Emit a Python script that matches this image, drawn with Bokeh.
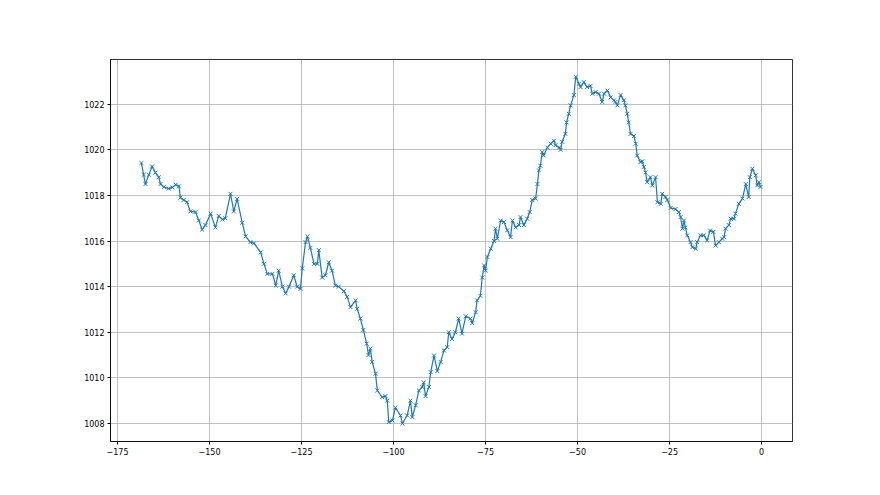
from bokeh.plotting import figure
from bokeh.models import Range1d, FixedTicker
from bokeh.embed import file_html
from bokeh.resources import INLINE

hours = [-168.5, -167.9, -167.4, -166.5, -165.6, -164.7, -163.8, -163.3, -162.4, -161.1,
         -160.1, -159.2, -158.3, -157.9, -157.0, -156.1, -155.2, -153.8, -152.9, -152.0,
         -151.1, -149.7, -148.4, -147.5, -146.5, -145.7, -144.3, -143.4, -142.5, -141.1,
         -140.2, -138.9, -137.9, -136.1, -135.2, -134.3, -132.9, -132.0, -131.2, -130.2,
         -129.3, -128.4, -127.1, -126.2, -125.3, -124.8, -123.9, -123.4, -122.6, -121.6,
         -120.7, -120.3, -119.4, -118.5, -117.6, -116.7, -115.8, -114.9, -113.5, -112.6,
         -111.7, -110.3, -109.9, -109.0, -108.2, -107.3, -106.8, -106.3, -105.8, -104.9,
         -104.4, -103.1, -102.2, -101.7, -101.3, -100.3, -99.5, -98.1, -97.6, -96.3,
         -95.4, -94.9, -94.0, -93.1, -92.2, -91.8, -91.3, -90.4, -89.9, -89.0,
         -88.1, -87.2, -86.3, -85.4, -85.0, -84.1, -83.2, -82.3, -81.4, -80.4,
         -79.1, -78.6, -77.7, -77.3, -76.4, -75.9, -75.4, -75.0, -74.5, -73.6,
         -72.7, -72.3, -71.8, -70.9, -70.0, -69.1, -68.2, -67.7, -66.8, -65.9,
         -65.5, -64.6, -63.7, -63.0, -62.3, -61.4, -60.9, -60.5, -60.1, -59.6,
         -59.2, -58.2, -57.3, -56.4, -56.0, -55.0, -54.6, -54.2, -53.3, -53.0,
         -52.4, -51.9, -51.0, -50.5, -49.6, -49.2, -48.3, -47.4, -46.5, -46.0,
         -45.1, -44.2, -43.3, -42.8, -41.9, -41.0, -40.1, -39.7, -39.2, -38.3,
         -37.4, -37.0, -36.5, -36.1, -35.6, -34.7, -34.2, -33.8, -32.9, -32.4,
         -32.0, -31.5, -31.1, -30.2, -29.7, -28.8, -28.3, -27.4, -27.0, -26.1,
         -25.6, -24.7, -23.4, -22.5, -22.0, -21.5, -21.1, -20.7, -20.2, -19.3,
         -18.8, -17.9, -17.5, -16.6, -15.7, -14.8, -14.0, -13.1, -12.5, -11.6,
         -10.7, -10.2, -9.8, -8.9, -8.4, -7.5, -7.1, -6.2, -5.2, -4.3,
         -3.5, -3.2, -2.5, -1.6, -1.2, -0.7, -0.3]

pressure = [1019.42, 1018.9, 1018.5, 1018.9, 1019.27, 1019.0, 1018.8, 1018.5, 1018.37, 1018.3,
            1018.35, 1018.47, 1018.4, 1017.9, 1017.8, 1017.7, 1017.3, 1017.27, 1016.9, 1016.5,
            1016.7, 1017.2, 1016.6, 1017.1, 1016.95, 1017.0, 1018.07, 1017.3, 1017.85, 1016.8,
            1016.2, 1015.95, 1015.9, 1015.5, 1015.0, 1014.56, 1014.56, 1014.05, 1014.7, 1014.0,
            1013.7, 1014.0, 1014.5, 1014.0, 1013.9, 1014.8, 1015.95, 1016.2, 1015.7, 1015.0,
            1015.0, 1015.6, 1014.4, 1014.5, 1015.07, 1014.7, 1014.05, 1014.0, 1013.8, 1013.55,
            1013.1, 1013.4, 1013.03, 1012.6, 1012.1, 1011.5, 1011.0, 1011.28, 1010.7, 1010.18,
            1009.45, 1009.15, 1009.2, 1009.0, 1008.06, 1008.13, 1008.7, 1008.35, 1008.0, 1008.35,
            1009.0, 1008.28, 1008.8, 1009.45, 1009.6, 1009.8, 1009.2, 1009.6, 1010.25, 1010.98,
            1010.3, 1010.7, 1011.2, 1011.35, 1012.0, 1011.7, 1012.0, 1012.6, 1011.94, 1012.7,
            1012.6, 1012.4, 1012.88, 1013.4, 1013.6, 1014.4, 1014.93, 1014.7, 1015.3, 1015.66,
            1016.0, 1016.54, 1016.1, 1016.9, 1016.83, 1016.47, 1016.17, 1016.9, 1016.6, 1016.7,
            1017.05, 1016.7, 1016.98, 1017.27, 1017.8, 1017.86, 1018.5, 1019.1, 1019.3, 1019.9,
            1019.75, 1020.1, 1020.27, 1020.4, 1020.2, 1020.1, 1020.0, 1020.35, 1020.7, 1021.2,
            1021.58, 1021.95, 1022.4, 1023.2, 1022.9, 1022.75, 1022.97, 1022.75, 1022.8, 1022.46,
            1022.53, 1022.46, 1022.1, 1022.46, 1022.6, 1022.3, 1022.17, 1022.1, 1021.95, 1022.4,
            1022.17, 1021.95, 1021.58, 1021.2, 1020.7, 1020.6, 1020.27, 1019.75, 1019.46, 1019.5,
            1019.25, 1019.0, 1018.58, 1018.8, 1018.44, 1018.8, 1017.7, 1017.63, 1018.07, 1017.93,
            1017.8, 1017.45, 1017.4, 1017.27, 1017.05, 1016.54, 1016.9, 1016.6, 1016.25, 1015.95,
            1015.73, 1015.66, 1015.95, 1016.25, 1016.25, 1016.03, 1016.46, 1016.4, 1015.8, 1015.95,
            1016.1, 1016.17, 1016.54, 1016.7, 1016.98, 1016.98, 1017.2, 1017.63, 1017.86, 1018.5,
            1017.93, 1018.8, 1019.17, 1018.88, 1018.44, 1018.58, 1018.37]

x_ticks = [-175, -150, -125, -100, -75, -50, -25, 0]
y_ticks = [1008, 1010, 1012, 1014, 1016, 1018, 1020, 1022]

p = figure(width=864, height=479, output_backend="svg", toolbar_location=None,
           x_range=Range1d(-176.9, 8.4), y_range=Range1d(1007.21, 1023.96),
           min_border_left=110, min_border_right=72, min_border_top=59, min_border_bottom=38)

p.background_fill_color = "white"
p.border_fill_color = "white"
p.outline_line_color = "black"
p.outline_line_width = 1
p.outline_line_alpha = 0.8

p.xaxis.ticker = FixedTicker(ticks=x_ticks)
p.yaxis.ticker = FixedTicker(ticks=y_ticks)
for ax in (p.xaxis, p.yaxis):
    ax.axis_line_color = "black"
    ax.axis_line_alpha = 0.8
    ax.major_tick_line_color = "black"
    ax.major_tick_in = 0
    ax.major_tick_out = 3
    ax.minor_tick_line_color = None
    ax.major_label_text_font = "DejaVu Sans"
    ax.major_label_text_font_size = "8px"
    ax.major_label_text_color = "black"
    ax.major_label_standoff = 3

p.grid.grid_line_color = "#b0b0b0"
p.grid.grid_line_width = 0.8

p.line(hours, pressure, line_color="#1f77b4", line_width=1.2)
p.scatter(hours, pressure, marker="x", size=5.5, line_color="#1f77b4", line_width=1)

open("out.html", "w").write(file_html(p, INLINE))
